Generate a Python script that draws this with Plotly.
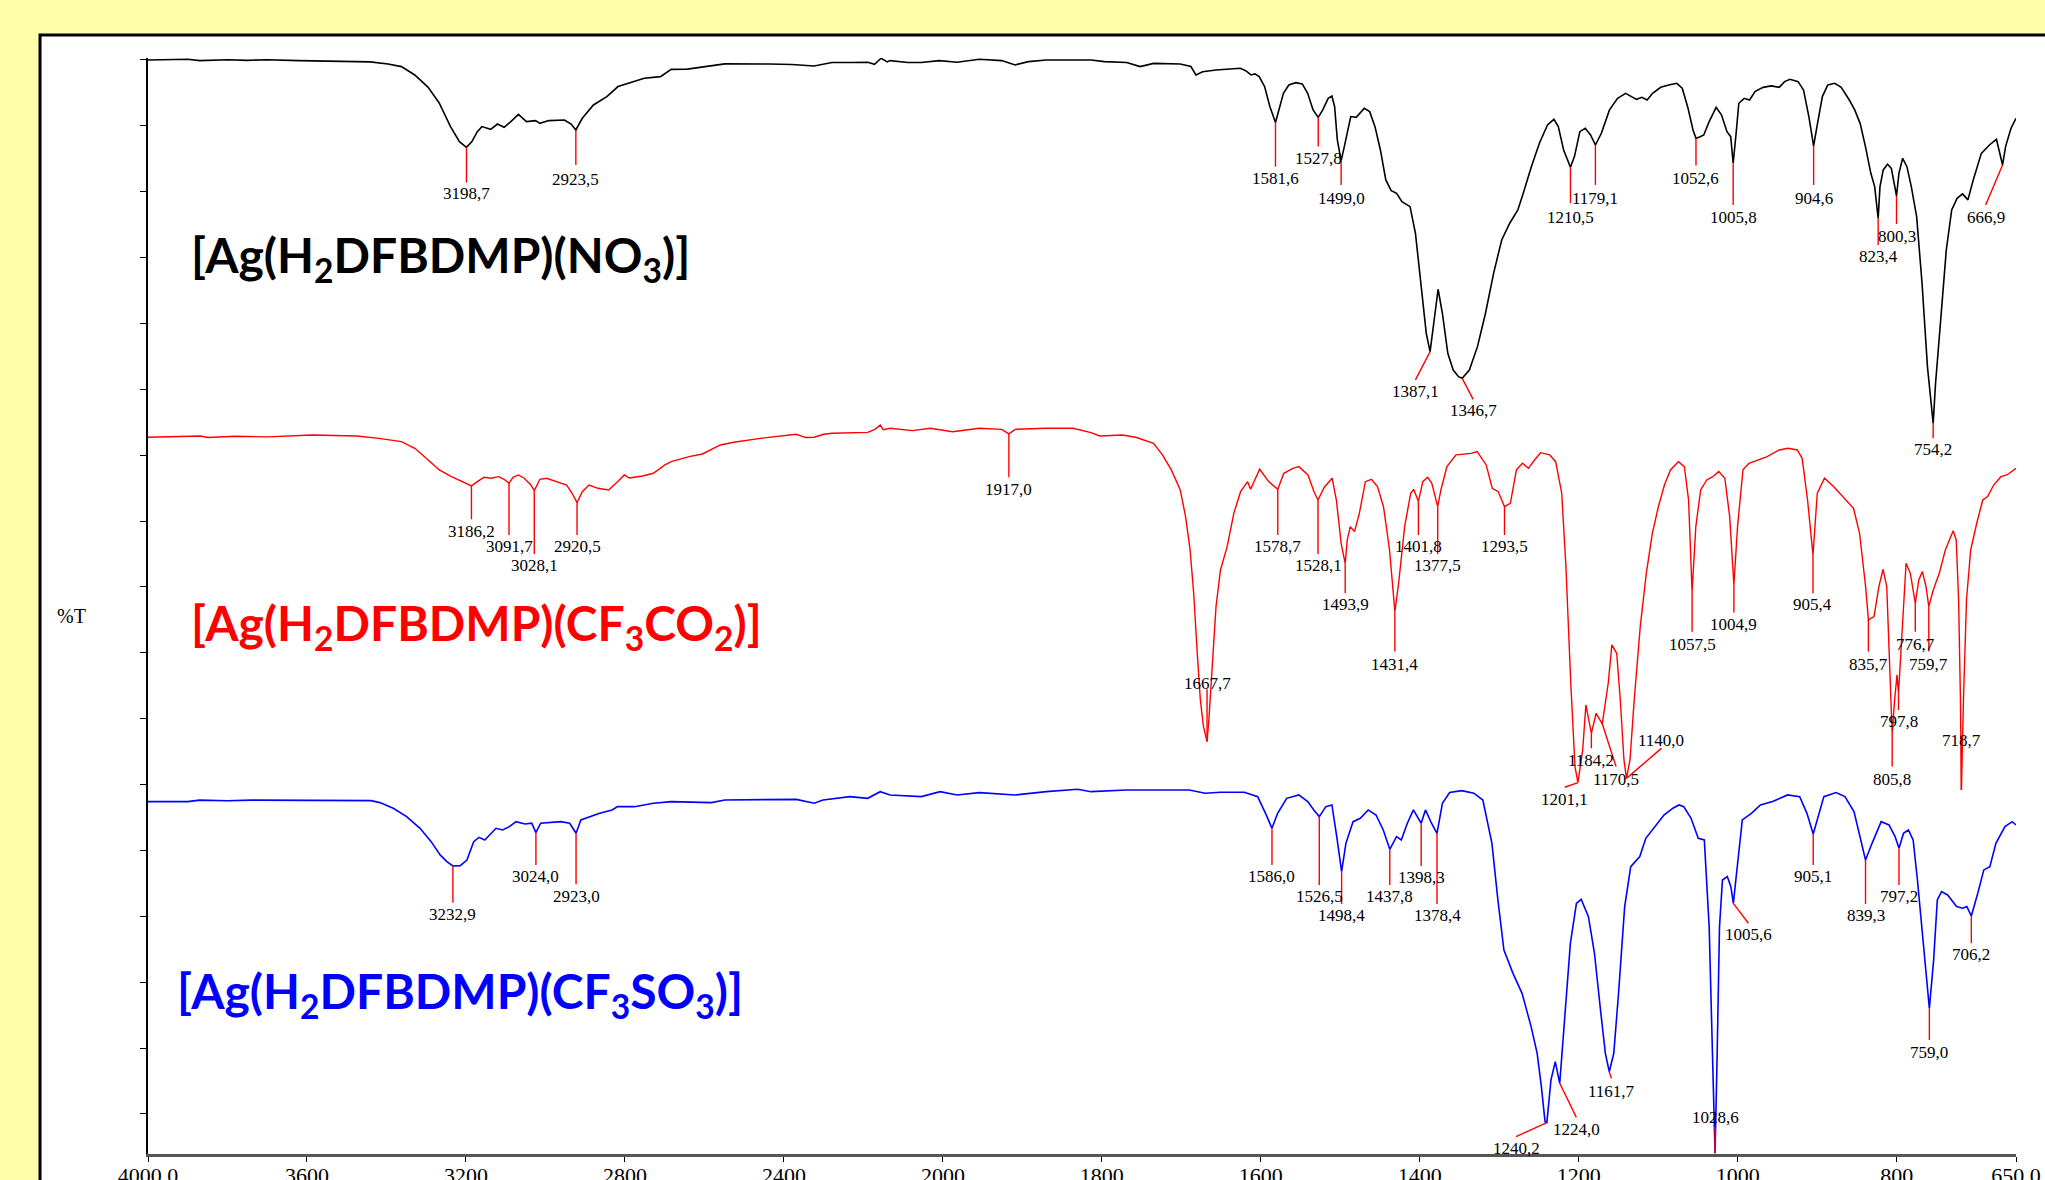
import plotly.graph_objects as go

# ---------------- data (wavenumber cm-1, %T offset units) ----------------
black_points = [
    (4000, 839), (3900, 839.5), (3870, 838.5), (3800, 839.2), (3750, 838.7), (3700, 839.2), (3620, 838.5),
    (3560, 838), (3441, 837.5), (3396, 835.9), (3362.5, 833.9), (3328.8, 827.5), (3295, 818), (3267, 805.8),
    (3238.9, 787.9), (3216.4, 776.4), (3198.7, 772), (3185, 776.4), (3171.4, 784), (3160, 787.9), (3137.7, 785.8),
    (3120.8, 789.9), (3104, 787.4), (3087, 791.7), (3068, 797.3), (3047.8, 791.7), (3025, 792.5), (3014, 790.4),
    (2991.6, 792.5), (2952, 793), (2935.4, 789.9), (2923.5, 785.3), (2907.3, 794.3), (2879.2, 804.5),
    (2845.5, 810.9), (2817.4, 818.6), (2778, 822.4), (2751.3, 825), (2710.6, 826.2), (2683.6, 831.8), (2643, 832),
    (2600, 834), (2548.7, 836), (2436.4, 835.9), (2380, 835.5), (2324, 834.4), (2300, 836), (2279, 837),
    (2234, 837), (2189, 837.2), (2172, 835.7), (2155.5, 840.3), (2140, 837.5), (2133, 838.5), (2088, 837),
    (2054.3, 837), (2009.3, 838.5), (1982.2, 837.2), (1954.1, 839.5), (1926, 838.5), (1909.2, 835.2),
    (1892.4, 837.7), (1869.9, 839), (1813.7, 839), (1796.8, 837.7), (1768.8, 837), (1751.9, 833.9), (1735, 836.4),
    (1701.4, 835.9), (1688, 834), (1681.7, 827.5), (1673.3, 830), (1656.4, 831.3), (1642.8, 832.1), (1625.9, 832.6),
    (1619.1, 830.8), (1612.3, 827.5), (1607.5, 828.3), (1602.1, 826.2), (1595.3, 818.6), (1588.6, 803.2),
    (1581.6, 791), (1578.4, 798.1), (1571.6, 813.4), (1564.8, 819.8), (1556.0, 821.6), (1547.9, 820.6),
    (1541.1, 813.4), (1534.3, 800.7), (1527.8, 795), (1522.1, 800.7), (1515.3, 809.6), (1510.6, 811.4),
    (1507.2, 803.2), (1503.8, 777.7), (1499.0, 761.8), (1495.0, 772.6), (1490.2, 787.9), (1486.9, 795.6),
    (1480.1, 795), (1469.9, 801.9), (1463.1, 799.4), (1456.4, 787.9), (1449.6, 770), (1442.8, 747),
    (1436.0, 738.8), (1429.2, 736.8), (1422.5, 730.4), (1412.3, 726.5), (1405.5, 706.1), (1398.7, 667.8),
    (1391.9, 629.4), (1387.1, 615.4), (1381.8, 642.2), (1377.0, 663.2), (1371.6, 644.8), (1364.8, 614.1),
    (1358.0, 601.3), (1351.3, 596.2), (1346.7, 594.9), (1337.7, 601.3), (1327.5, 619.2), (1317.4, 644.8),
    (1307.2, 675.4), (1297.0, 701), (1286.9, 713.8), (1276.7, 724), (1269.9, 736.8), (1259.7, 757.2),
    (1249.6, 775.1), (1239.4, 789.2), (1231.3, 793.5), (1225.8, 787.9), (1219.1, 770), (1210.5, 756.7),
    (1205.5, 764.9), (1198.7, 784), (1191.9, 786.6), (1185.2, 781.5), (1179.1, 773.8), (1171.6, 782.8),
    (1161.4, 800.7), (1151.2, 809.6), (1141.1, 813.4), (1134.3, 810.9), (1127.5, 808.8), (1120.7, 810.4),
    (1114.0, 808.3), (1107.2, 813.4), (1097.0, 818), (1086.9, 819.8), (1076.7, 821.1), (1069.9, 817.3),
    (1063.1, 803.2), (1056.3, 785.3), (1052.6, 778.9), (1048, 780), (1042.8, 781.5), (1036.0, 791.7),
    (1027.2, 802.7), (1020.4, 796.8), (1013.6, 784), (1008.9, 780.2), (1005.8, 759.8), (1002.1, 782.8),
    (998.7, 805.8), (991.9, 809.6), (985.1, 808.3), (978.4, 814.7), (968.2, 818), (958.0, 819.1), (947.9, 818),
    (941.1, 822.4), (934.3, 824.2), (924.1, 822.4), (917.3, 816), (910.6, 795.6), (904.6, 773.1), (900.4, 787.9),
    (893.6, 810.9), (886.8, 819.8), (878.0, 821.1), (869.9, 818), (859.7, 808.3), (852.9, 800.7), (846.1, 790.4),
    (839.4, 772.5), (832.6, 752.1), (827.8, 741.9), (823.4, 717.6), (821.1, 741.9), (817.0, 754.7), (811.6, 759),
    (806.8, 755.9), (800.3, 734.7), (797.3, 752.1), (792.6, 763.6), (787.2, 757.2), (781.7, 741.9), (775.0, 718.9),
    (768.2, 667.8), (761.4, 603.9), (754.2, 560.4), (751.2, 591.1), (744.4, 642.2), (737.7, 693.3), (730.9, 724),
    (724.1, 732.9), (717.3, 736.3), (710.5, 731.7), (703.8, 747), (693.6, 767.4), (683.4, 773.8), (674.6, 778.2),
    (666.9, 758.5), (663.1, 772.6), (656.3, 786.6), (650, 794.3),
]

red_points = [
    (4000, 549.7), (3950, 550), (3868, 550.7), (3850, 549.5), (3780, 550.5), (3700, 550), (3587, 551.5),
    (3475, 550.7), (3418.7, 548.9), (3362.5, 546.4), (3328.8, 541.3), (3295, 532.3), (3267, 524.7), (3238.9, 520),
    (3210.8, 515.7), (3186.2, 512.4), (3171.4, 515.7), (3154.6, 519), (3137.7, 518.3), (3117.5, 519.5),
    (3104, 517.5), (3091.7, 514.4), (3081.5, 519), (3068, 520.8), (3053.4, 518.3), (3036.6, 513.1), (3028.1, 508.8),
    (3014, 517.5), (2997.2, 518.3), (2969, 515.7), (2946.6, 513.1), (2933, 506.8), (2920.5, 499.6), (2907.3, 508),
    (2890.4, 513.1), (2868, 510.6), (2841, 509.3), (2818.5, 515.7), (2801.7, 520.8), (2789, 518.5), (2755.5, 520),
    (2728.6, 522.1), (2699.4, 528.5), (2683.7, 531), (2665.6, 532.8), (2638.7, 534.9), (2605, 536.9),
    (2560, 543.8), (2526.3, 545.9), (2459, 548.9), (2369, 552), (2345, 549.5), (2324, 549.7), (2300, 552),
    (2279, 552.8), (2189, 553.5), (2170, 556), (2157.7, 559.1), (2150, 555.5), (2133, 556.6), (2076.8, 554.8),
    (2031.8, 556.6), (1987.8, 554), (1954.1, 556.6), (1926, 555.8), (1917.0, 552.3), (1909.2, 555.8),
    (1869.9, 556.6), (1836.2, 556.6), (1813.7, 553.3), (1802.5, 550.7), (1774.4, 551.5), (1757.5, 549.7),
    (1735, 545.1), (1723.8, 536.2), (1712.6, 524.7), (1701.4, 509.3), (1694.7, 488.9), (1689.0, 463.3),
    (1684.5, 430.1), (1680, 384.1), (1676.1, 348.3), (1672.2, 327.9), (1667.7, 316.4), (1665.4, 333),
    (1661, 373.9), (1656.4, 419.9), (1650.8, 448), (1642.4, 465.9), (1634, 491.4), (1625.5, 508), (1616.7, 515.7),
    (1612.9, 509.8), (1601.5, 525.2), (1590.1, 515.7), (1578.7, 509.8), (1571.1, 522.1), (1559.7, 525.9),
    (1552.1, 527.2), (1540.7, 520.8), (1533.1, 508), (1528.1, 501.6), (1520.2, 511.4), (1510.3, 518.3),
    (1505, 501.6), (1499, 468.4), (1493.9, 453.1), (1491.3, 471), (1487.5, 481.2), (1482.2, 477.4),
    (1476.1, 491.4), (1468.5, 515.7), (1460.9, 517.5), (1453.3, 511.9), (1445.7, 496.5), (1438.1, 463.3),
    (1431.4, 416), (1426.7, 437.8), (1419.1, 481.2), (1411.5, 506.8), (1407.7, 509.8), (1401.8, 500.4),
    (1396.3, 515.7), (1390.2, 519), (1384.9, 514.4), (1377.5, 496.5), (1373.5, 509.3), (1365.9, 527.2),
    (1354.5, 536.2), (1335.5, 537.4), (1327.9, 538.7), (1316.5, 528.5), (1308.9, 510.6), (1301.3, 508),
    (1293.5, 496.5), (1286.1, 499.1), (1278.5, 524.7), (1270.9, 529.8), (1263.3, 525.9), (1255.7, 532.3),
    (1248.1, 537.9), (1236.7, 536.2), (1229.1, 531), (1221.5, 506.8), (1216.2, 450.5), (1210.1, 361.1),
    (1204.8, 297.2), (1201.1, 285), (1195.1, 310), (1191.1, 344.5), (1187.3, 333), (1184.2, 322.7),
    (1178.2, 338.1), (1170.5, 330), (1163, 361.1), (1158.4, 390.5), (1152.3, 384.1), (1147.8, 348.3),
    (1143.2, 302.3), (1140.0, 288.2), (1135.6, 302.3), (1130.3, 348.3), (1122.7, 404.5), (1115.1, 445.4),
    (1107.5, 476.1), (1099.9, 496.5), (1092.3, 513.1), (1084.7, 524.7), (1074.8, 531), (1067.2, 527.2),
    (1061.9, 501.6), (1057.5, 431.4), (1052.8, 481.2), (1046.7, 509.3), (1039.1, 517), (1031.5, 519.5),
    (1023.9, 523.4), (1016.3, 518.3), (1010.2, 488.9), (1004.9, 436.5), (1000.3, 481.2), (993.5, 524.7),
    (985.9, 529.8), (974.5, 532.3), (963.1, 534.9), (947.9, 540), (936.5, 541.3), (925.1, 540), (919, 533.6),
    (912.2, 501.6), (905.4, 459.5), (900, 506.8), (890.9, 518.3), (879.5, 511.9), (868.1, 504.2), (854.4, 495.3),
    (846.8, 476.1), (839.2, 435.2), (835.7, 409.7), (828.6, 412.2), (822.5, 435.2), (817.2, 448.5),
    (812.6, 435.2), (808.8, 373.9), (805.8, 322.7), (802.7, 348.3), (799.7, 367.5), (797.8, 353.4),
    (793.6, 399.4), (788.3, 453.1), (782.9, 445.4), (776.7, 422.4), (772.3, 440.3), (767.8, 446.7),
    (763.2, 435.2), (759.7, 419.9), (754.1, 432.6), (746.5, 445.4), (738.9, 463.3), (729, 478.1), (725.2, 471),
    (722.2, 425), (719.9, 348.3), (718.7, 279.3), (716.1, 348.3), (712.3, 425), (707, 463.3), (699.4, 483.8),
    (691.8, 501.6), (685.7, 504.2), (678.1, 513.1), (669, 519.5), (661.4, 520.8), (655.3, 523.4), (650, 525.9),
]

blue_points = [
    (4000, 270.4), (3900, 270.4), (3870, 271.5), (3800, 271), (3740, 271.5), (3650, 271.4), (3560, 271.7),
    (3439, 271.1), (3416.7, 269.6), (3383, 265.3), (3349.3, 258.9), (3315.6, 249.9), (3287.5, 239.7),
    (3265, 229.5), (3248, 224.4), (3232.9, 221), (3214.4, 221.3), (3197.6, 225.6), (3180.6, 239.7), (3167.2, 243),
    (3152.6, 241), (3124.5, 249.9), (3107.6, 248.6), (3090.7, 251.2), (3073.9, 255), (3051.4, 253.2),
    (3034.5, 253.8), (3024, 246.6), (3012, 253.8), (2995.2, 254.3), (2961.5, 255), (2939, 253.8), (2923, 246.1),
    (2910.9, 256.3), (2877.2, 260.1), (2863.5, 261.4), (2832.3, 264), (2818.5, 266.5), (2776, 266.5),
    (2728.6, 269.1), (2683.7, 270.4), (2582.5, 269.6), (2548.8, 271.6), (2436.4, 272.1), (2369, 272.1),
    (2324, 269.1), (2301.5, 271.6), (2234.1, 274.2), (2189.2, 272.9), (2157.7, 278), (2133, 275.5),
    (2054.3, 274.2), (2007, 278), (1982.2, 275.5), (1954.1, 277.3), (1909.2, 275.5), (1869.9, 278),
    (1830.6, 279.8), (1813.7, 278), (1768.8, 279.3), (1690, 279.3), (1670, 276.8), (1651, 277.5), (1620.7, 277.5),
    (1604, 274.2), (1594.1, 261.4), (1586.0, 249.9), (1578.9, 261.4), (1567.5, 272.9), (1552.3, 275.5),
    (1541, 270.4), (1533.4, 264), (1526.5, 258.9), (1518.2, 266.5), (1510.6, 267.8), (1504.5, 243.5),
    (1498.4, 216.7), (1493, 238.4), (1484, 255), (1474.9, 257.6), (1465, 264), (1455.1, 260.1), (1446, 248.6),
    (1437.8, 233.8), (1429.3, 243.5), (1423.3, 241), (1415.7, 253.8), (1408.1, 264), (1398.3, 253.8),
    (1392.9, 264), (1385.3, 253.8), (1378.4, 246.1), (1371.6, 269.1), (1362.5, 277.3), (1347.3, 278.8),
    (1332.1, 276.8), (1320.7, 271.6), (1309.3, 238.4), (1301.8, 195), (1294.2, 156.6), (1282.8, 138.7),
    (1271.4, 123.4), (1260, 97.9), (1252.4, 77.4), (1247.1, 51.9), (1242.5, 25), (1240.2, 24.3), (1235, 57),
    (1229.6, 71), (1224.0, 54.4), (1218.2, 97.9), (1210.6, 161.7), (1203, 192.4), (1197, 195.5),
    (1187.9, 182.2), (1180.3, 154.1), (1172.7, 110.6), (1166.6, 77.4), (1161.7, 63.3), (1156, 77.4),
    (1150, 123.4), (1142.3, 189.9), (1134.7, 220.5), (1123.3, 228.2), (1115.7, 242.2), (1104.3, 251.2),
    (1092.9, 260.1), (1081.6, 265.3), (1074, 267.8), (1067.9, 266.5), (1058.8, 257.6), (1049.7, 242.2),
    (1042.1, 241), (1036, 174.5), (1032.2, 72.3), (1028.6, 0.7), (1026.1, 72.3), (1023, 174.5), (1019.3, 210.3),
    (1013.2, 212.9), (1008.7, 205.2), (1005.6, 192.4), (1001.1, 218), (994.3, 256.3), (982.9, 261.4),
    (971.5, 267.8), (956.3, 270.4), (937.3, 275.5), (922.1, 274.2), (913, 261.4), (905.1, 245.6), (899.3, 257.6),
    (891.7, 274.2), (876.5, 277.3), (865.2, 274.2), (853.8, 262.7), (846.2, 243.5), (839.3, 225.6),
    (831.1, 238.4), (819.6, 255), (809.8, 252.5), (802.1, 243.5), (797.2, 234.6), (791.5, 246.1), (785.4, 248.6),
    (779.4, 241), (774, 210.3), (766.5, 159.2), (761.1, 128.5), (759.0, 111.9), (753.6, 149), (749, 195),
    (743.7, 201.4), (736.1, 198.8), (724.7, 189.9), (717.1, 188.6), (711.8, 189.9), (706.2, 182.7),
    (698.1, 200.1), (690.5, 218), (682.9, 220.5), (675.3, 238.4), (663.9, 251.2), (654.8, 255), (650, 252.5),
]

# peak labels: (peak wn, line start T, line end wn, line end T, text centre T)
black_labels = [
    (3198.7, 772, 3198.7, 745, 736.8), (2923.5, 785.3, 2923.5, 758.5, 747),
    (1581.6, 791, 1581.6, 757.2, 748.3), (1527.8, 795, 1527.8, 772.6, 763.6),
    (1499.0, 761.8, 1499.0, 743.2, 732.9), (1387.1, 615.4, 1405.5, 593.7, 584.7),
    (1346.7, 594.9, 1332.9, 578.8, 570.1), (1210.5, 756.7, 1210.5, 729.1, 718.4),
    (1179.1, 773.8, 1179.1, 743.2, 732.9), (1052.6, 778.9, 1052.6, 758, 748.3),
    (1005.8, 759.8, 1005.8, 727.8, 718.4), (904.6, 773.1, 904.6, 743.2, 732.9),
    (823.4, 717.6, 823.4, 697.2, 688.2), (800.3, 734.7, 800.3, 713.3, 704),
    (754.2, 560.4, 754.2, 549, 540), (666.9, 758.5, 688.2, 727.8, 718.4),
]
red_labels = [
    (3186.2, 512.4, 3186.2, 486.8, 477.4), (3091.7, 514.4, 3091.7, 474.8, 465.9),
    (3028.1, 508.8, 3028.1, 460.2, 451.3), (2920.5, 499.6, 2920.5, 474.8, 465.9),
    (1917.0, 552.3, 1917.0, 519, 509.8), (1667.7, 316.4, 1667.7, 356.5, 361.1),
    (1578.7, 509.8, 1578.7, 474.8, 465.9), (1528.1, 501.6, 1528.1, 460.2, 451.3),
    (1493.9, 453.1, 1493.9, 430.1, 421.7), (1431.4, 416, 1431.4, 385.4, 375.6),
    (1401.8, 500.4, 1401.8, 474.8, 465.9), (1377.5, 496.5, 1377.5, 460.2, 451.3),
    (1293.5, 496.5, 1293.5, 474.8, 465.9), (1201.1, 285, 1217.7, 281.4, 272.1),
    (1184.2, 322.7, 1184.2, 311.2, 301.8), (1170.5, 330, 1153.1, 297.2, 287),
    (1140.0, 288.2, 1096.1, 311.2, 317.1), (1057.5, 431.4, 1057.5, 400.7, 391),
    (1004.9, 436.5, 1004.9, 415.3, 406.3), (905.4, 459.5, 905.4, 430.1, 421.7),
    (835.7, 409.7, 835.7, 385.4, 375.6), (805.8, 322.7, 805.8, 297.2, 287),
    (797.8, 353.4, 797.8, 340.6, 331.7), (776.7, 422.4, 776.7, 400.7, 391),
    (759.7, 419.9, 759.7, 385.4, 375.6), (718.7, 279.3, 718.7, 311.2, 317.1),
]
blue_labels = [
    (3232.9, 221, 3232.9, 192.9, 183.5), (3024.0, 246.6, 3024.0, 221.8, 212.9),
    (2923.0, 246.1, 2923.0, 207, 197.5), (1586.0, 249.9, 1586.0, 221.8, 212.9),
    (1526.5, 258.9, 1526.5, 206.5, 197.5), (1498.4, 216.7, 1498.4, 191.9, 182.9),
    (1437.8, 233.8, 1437.8, 206.5, 197.5), (1398.3, 253.8, 1398.3, 221, 212.4),
    (1378.4, 246.1, 1378.4, 191.9, 182.9), (1240.2, 24.3, 1279, 13.5, 4.6),
    (1224.0, 54.4, 1203.1, 28.3, 19.1), (1161.7, 63.3, 1159, 58.2, 48.5),
    (1028.6, 0.7, 1028.6, 21, 28.3), (1005.6, 192.4, 986.7, 177.1, 168.7),
    (905.1, 245.6, 905.1, 221.8, 212.9), (839.3, 225.6, 839.3, 191.9, 182.9),
    (797.2, 234.6, 797.2, 206.5, 197.5), (759.0, 111.9, 759.0, 87.6, 78.2),
    (706.2, 182.7, 706.2, 161.8, 152.8),
]

x_ticks = [4000, 3600, 3200, 2800, 2400, 2000, 1800, 1600, 1400, 1200, 1000, 800, 650]
x_tick_text = ["4000,0", "3600", "3200", "2800", "2400", "2000", "1800", "1600", "1400", "1200", "1000", "800", "650,0"]

titles = [
    ("[Ag(H<sub>2</sub>DFBDMP)(NO<sub>3</sub>)]", "#000000", 0.0222, 687),
    ("[Ag(H<sub>2</sub>DFBDMP)(CF<sub>3</sub>CO<sub>2</sub>)]", "#FF0000", 0.0222, 405),
    ("[Ag(H<sub>2</sub>DFBDMP)(CF<sub>3</sub>SO<sub>3</sub>)]", "#0000FF", 0.0142, 123),
]


# IR x scale: 4000-2000 at half the density of 2000-650
def u(w):
    return 4000 - w if w >= 2000 else 2000 + 2 * (2000 - w)


fig = go.Figure()

spectra = [(black_points, "#000000", 1.6), (red_points, "#FF0000", 1.4), (blue_points, "#0000FF", 1.6)]
all_labels = [black_labels, red_labels, blue_labels]

for pts, col, lw in spectra:
    fig.add_trace(go.Scatter(x=[u(p[0]) for p in pts], y=[p[1] for p in pts], mode="lines",
                             line=dict(color=col, width=lw), hoverinfo="skip", showlegend=False))

lab_font = dict(family="Liberation Serif", size=17, color="#000000")
annotations = []
for labs in all_labels:
    lx, ly = [], []
    for (w, y0, w1, y1, ty) in labs:
        lx += [u(w), u(w1), None]
        ly += [y0, y1, None]
        annotations.append(dict(x=u(w1), y=ty, xref="x", yref="y", text=f"{w:.1f}".replace(".", ","),
                                showarrow=False, font=lab_font, xanchor="center", yanchor="middle"))
    fig.add_trace(go.Scatter(x=lx, y=ly, mode="lines", line=dict(color="#FF0000", width=1.4),
                             hoverinfo="skip", showlegend=False))

for text, col, px, ty in titles:
    annotations.append(dict(x=px, y=ty, xref="paper", yref="y", text=text, showarrow=False,
                            xanchor="left", yanchor="middle",
                            font=dict(family="Lato", size=48, color=col, weight="bold")))

annotations.append(dict(x=-0.0407, y=413, xref="paper", yref="y", text="%T", showarrow=False,
                        xanchor="center", yanchor="middle",
                        font=dict(family="Liberation Serif", size=20, color="#000000")))

y_tick_vals = [30.9 + 50.51 * k for k in range(17)]

fig.update_layout(
    width=2045, height=1180,
    margin=dict(l=148, r=29, t=58, b=26, autoexpand=False),
    paper_bgcolor="#FFFFAA",
    plot_bgcolor="#FFFFFF",
    annotations=annotations,
    shapes=[dict(type="rect", xref="paper", yref="paper", x0=-0.0578, x1=1.1, y0=-0.1, y1=1.021,
                 line=dict(color="#000000", width=3), fillcolor="#FFFFFF", layer="below")],
    xaxis=dict(range=[0, 4700], tickvals=[u(w) for w in x_ticks], ticktext=x_tick_text,
               ticks="outside", ticklen=5, tickcolor="#000000", showline=True, linecolor="#555555",
               linewidth=3, showgrid=False, zeroline=False, automargin=False, ticklabelstandoff=-5,
               tickfont=dict(family="Liberation Serif", size=22, color="#000000")),
    yaxis=dict(range=[0.2, 840.5], tickvals=y_tick_vals, showticklabels=False, ticks="outside",
               ticklen=6, tickcolor="#000000", showline=True, linecolor="#000000", linewidth=1.5,
               showgrid=False, zeroline=False, automargin=False),
)

fig.write_html("out.html", config={"displayModeBar": False},
               post_script="document.body.style.margin='0';document.body.style.background='#FFFFAA';")
